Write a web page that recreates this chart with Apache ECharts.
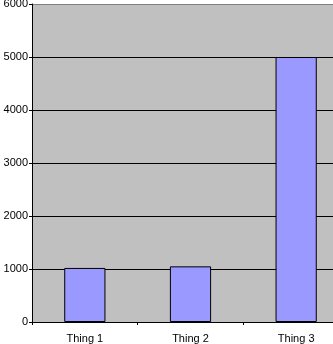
<!DOCTYPE html>
<html>
<head>
<meta charset="utf-8">
<script src="https://cdn.jsdelivr.net/npm/echarts@6/dist/echarts.min.js"></script>
<style>html,body{margin:0;padding:0;background:#fff;}#c{width:333px;height:344px;}</style>
</head>
<body>
<div id="c"></div>
<script>
var categories = ['Thing 1', 'Thing 2', 'Thing 3'];
var values = [1020, 1050, 5000];
var yTicks = [0, 1000, 2000, 3000, 4000, 5000, 6000];

var chart = echarts.init(document.getElementById('c'), null, {renderer: 'canvas'});
chart.setOption({
  animation: false,
  backgroundColor: '#ffffff',
  grid: {left: 32, top: 4, width: 317, height: 318, show: true, backgroundColor: '#c0c0c0', borderWidth: 0,
    containLabel: false, outerBoundsMode: 'none'},
  xAxis: {
    type: 'category',
    data: categories,
    axisLine: {show: true, lineStyle: {color: '#000', width: 1}},
    axisTick: {show: true, length: 3, lineStyle: {color: '#000'}},
    axisLabel: {color: '#000', fontSize: 11, fontFamily: 'Liberation Sans, Arial, sans-serif', margin: 11}
  },
  yAxis: {
    type: 'value',
    min: yTicks[0],
    max: yTicks[yTicks.length - 1],
    interval: 1000,
    axisLine: {show: true, lineStyle: {color: '#000', width: 1}},
    axisTick: {show: true, length: 3, lineStyle: {color: '#000'}},
    axisLabel: {color: '#000', fontSize: 11, fontFamily: 'Liberation Sans, Arial, sans-serif', margin: 4,
      formatter: function (v) { return String(v); }},
    splitLine: {show: true, lineStyle: {color: ['#000', '#000', '#000', '#000', '#000', '#000', '#808080'], width: 1}}
  },
  series: [{
    type: 'bar',
    data: values,
    barWidth: '39%',
    itemStyle: {color: '#9999ff', borderColor: '#000', borderWidth: 1}
  }]
});
</script>
</body>
</html>
